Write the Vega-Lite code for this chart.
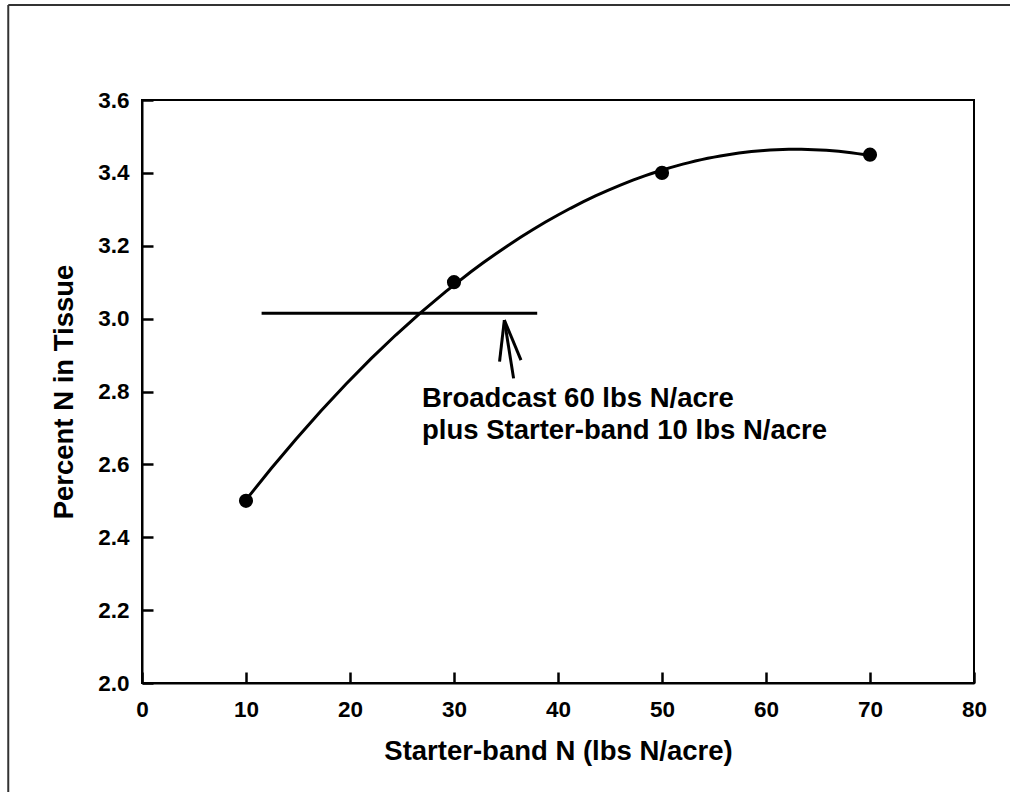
{
  "$schema": "https://vega.github.io/schema/vega-lite/v6.json",
  "width": 832,
  "height": 583,
  "autosize": {"type": "none"},
  "padding": {"left": 142, "top": 100, "right": 36, "bottom": 109},
  "background": "white",
  "config": {
    "font": "Liberation Sans",
    "view": {"stroke": "black", "strokeWidth": 2},
    "axis": {
      "grid": false,
      "domainColor": "black",
      "domainWidth": 2,
      "tickColor": "black",
      "tickWidth": 2.5,
      "tickSize": -11,
      "labelColor": "black",
      "labelFont": "Liberation Sans",
      "labelFontSize": 22.5,
      "labelFontWeight": "bold",
      "labelFlush": false,
      "labelOverlap": false,
      "titleColor": "black",
      "titleFont": "Liberation Sans",
      "titleFontSize": 27.5,
      "titleFontWeight": "bold"
    }
  },
  "datasets": {
    "points": [
      {"n": 10, "pct": 2.5},
      {"n": 30, "pct": 3.1},
      {"n": 50, "pct": 3.4},
      {"n": 70, "pct": 3.45}
    ],
    "segments": [
      {"name": "level", "n": 11.5, "pct": 3.015, "n2": 38, "pct2": 3.015},
      {"name": "shaft", "n": 34.84, "pct": 2.996, "n2": 35.73, "pct2": 2.836},
      {"name": "barbL", "n": 34.84, "pct": 2.996, "n2": 34.38, "pct2": 2.882},
      {"name": "barbR", "n": 34.84, "pct": 2.996, "n2": 36.44, "pct2": 2.886}
    ],
    "frame": [
      {"name": "top", "n": -12.86, "pct": 3.861, "n2": 84, "pct2": 3.861},
      {"name": "left", "n": -12.86, "pct": 3.861, "n2": -12.86, "pct2": 1.6}
    ],
    "labels": [
      {"n": 26.92, "pct": 2.757, "label": "Broadcast 60 lbs N/acre"},
      {"n": 26.92, "pct": 2.670, "label": "plus Starter-band 10 lbs N/acre"}
    ]
  },
  "encoding": {
    "x": {
      "field": "n",
      "type": "quantitative",
      "scale": {"domain": [0, 80], "nice": false, "zero": false},
      "axis": {
        "title": "Starter-band N (lbs N/acre)",
        "values": [0, 10, 20, 30, 40, 50, 60, 70, 80],
        "labelPadding": 26,
        "titleX": 416,
        "titleY": 76,
        "titleBaseline": "alphabetic",
        "titleAlign": "center"
      }
    },
    "y": {
      "field": "pct",
      "type": "quantitative",
      "scale": {"domain": [2.0, 3.6], "nice": false, "zero": false},
      "axis": {
        "title": "Percent N in Tissue",
        "values": [2.0, 2.2, 2.4, 2.6, 2.8, 3.0, 3.2, 3.4, 3.6],
        "format": ".1f",
        "labelPadding": 24,
        "titleX": -70,
        "titleY": 291.5,
        "titleAngle": -90,
        "titleBaseline": "alphabetic",
        "titleAlign": "center"
      }
    }
  },
  "layer": [
    {
      "data": {"name": "frame"},
      "mark": {"type": "rule", "color": "#333333", "strokeWidth": 2},
      "encoding": {
        "x2": {"field": "n2"},
        "y2": {"field": "pct2"}
      }
    },
    {
      "data": {"name": "points"},
      "transform": [
        {"regression": "pct", "on": "n", "method": "poly", "order": 2, "extent": [10, 70]}
      ],
      "mark": {"type": "line", "color": "black", "strokeWidth": 3},
      "encoding": {}
    },
    {
      "data": {"name": "points"},
      "mark": {"type": "point", "filled": true, "shape": "circle", "color": "black", "size": 200, "opacity": 1},
      "encoding": {}
    },
    {
      "data": {"name": "segments"},
      "mark": {"type": "rule", "color": "black", "strokeWidth": 3},
      "encoding": {
        "x2": {"field": "n2"},
        "y2": {"field": "pct2"}
      }
    },
    {
      "data": {"name": "labels"},
      "mark": {"type": "text", "align": "left", "baseline": "alphabetic", "fontSize": 27.5, "fontWeight": "bold", "color": "black", "font": "Liberation Sans"},
      "encoding": {
        "text": {"field": "label"}
      }
    }
  ]
}
